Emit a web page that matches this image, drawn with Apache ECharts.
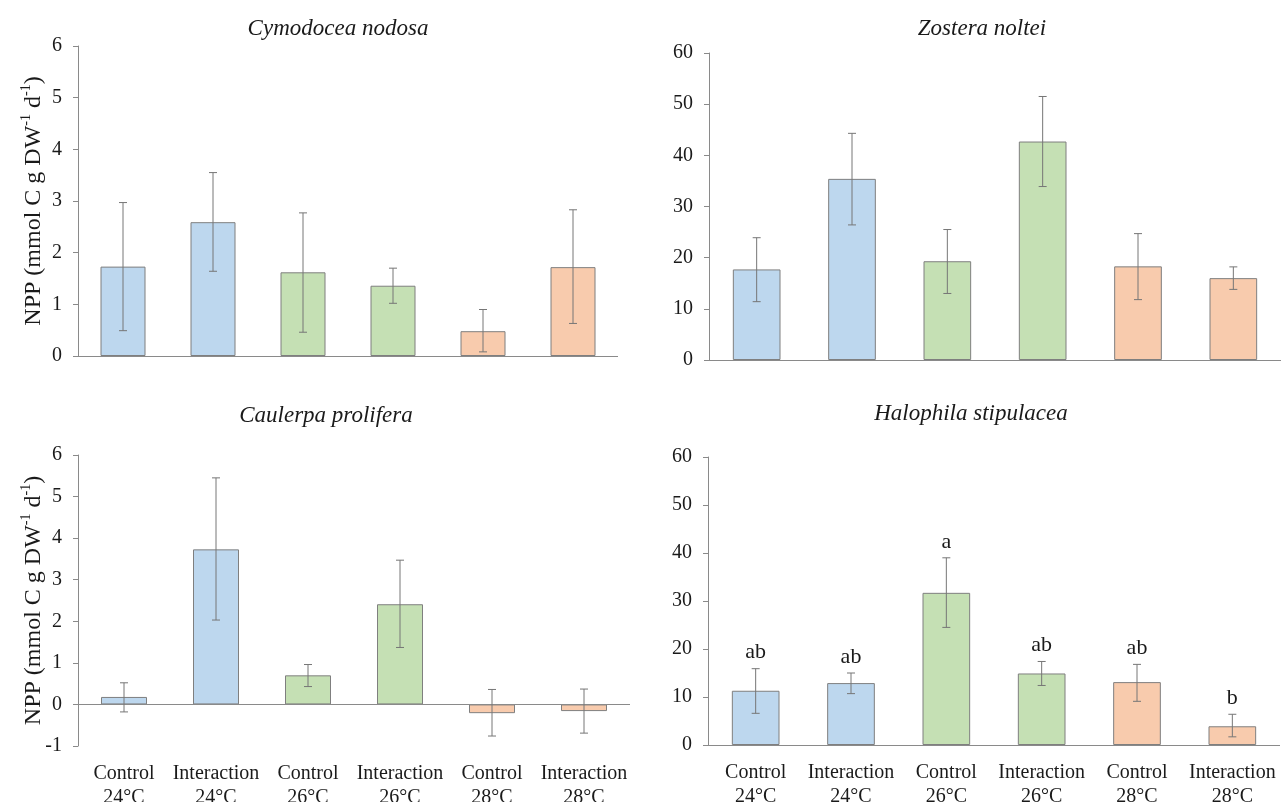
<!DOCTYPE html>
<html>
<head>
<meta charset="utf-8">
<script src="https://cdn.jsdelivr.net/npm/echarts@6/dist/echarts.min.js"></script>
<style>
  html, body { margin: 0; padding: 0; background: #fff; }
  #chart { width: 1282px; height: 802px; }
</style>
</head>
<body>
<div id="chart"></div>
<script>
// Treatment categories (shared by all four panels)
const categories = ['Control\n24°C', 'Interaction\n24°C', 'Control\n26°C', 'Interaction\n26°C', 'Control\n28°C', 'Interaction\n28°C'];

// Cymodocea nodosa: mean NPP and error bar ends
const cymodoceaMean = [1.73, 2.59, 1.62, 1.36, 0.48, 1.72];
const cymodoceaLow  = [0.49, 1.64, 0.46, 1.02, 0.08, 0.63];
const cymodoceaHigh = [2.97, 3.55, 2.77, 1.70, 0.90, 2.83];

// Zostera noltei
const zosteraMean = [17.7, 35.4, 19.3, 42.7, 18.3, 16.0];
const zosteraLow  = [11.4, 26.4, 13.0, 33.9, 11.8, 13.8];
const zosteraHigh = [23.9, 44.3, 25.5, 51.5, 24.7, 18.2];

// Caulerpa prolifera
const caulerpaMean = [0.18, 3.73, 0.70, 2.41, -0.21, -0.16];
const caulerpaLow  = [-0.18, 2.03, 0.43, 1.37, -0.76, -0.69];
const caulerpaHigh = [0.52, 5.45, 0.96, 3.47, 0.36, 0.37];

// Halophila stipulacea
const halophilaMean = [11.3, 12.9, 31.7, 14.9, 13.1, 3.9];
const halophilaLow  = [6.6, 10.7, 24.5, 12.4, 9.1, 1.7];
const halophilaHigh = [15.9, 15.0, 39.0, 17.4, 16.8, 6.4];
const halophilaLetters = ['ab', 'ab', 'a', 'ab', 'ab', 'b'];

// Panel titles and the y axis name
const panelTitles = ['Cymodocea nodosa', 'Zostera noltei', 'Caulerpa prolifera', 'Halophila stipulacea'];
const yNameText = '{n|NPP (mmol C g DW}{s|-1}{n| d}{s|-1}{n|)}';

const SERIF = '"Liberation Serif", "Times New Roman", serif';
const AXIS_GRAY = '#8a8a8a';
const INK = '#1a1a1a';
// fill per temperature group (24, 26, 28 °C)
const groupFill = ['#BDD7EE', '#C5E0B4', '#F8CBAD'];

const panels = [
  { mean: cymodoceaMean, low: cymodoceaLow, high: cymodoceaHigh, min: 0, max: 6, interval: 1,
    grid: { left: 78, top: 46, width: 540, height: 310 }, title: { x: 333, y: 12 }, yName: true, xLabels: false },
  { mean: zosteraMean, low: zosteraLow, high: zosteraHigh, min: 0, max: 60, interval: 10,
    grid: { left: 709, top: 53, width: 572, height: 307 }, title: { x: 977, y: 12 }, yName: false, xLabels: false },
  { mean: caulerpaMean, low: caulerpaLow, high: caulerpaHigh, min: -1, max: 6, interval: 1,
    grid: { left: 78, top: 455, width: 552, height: 291 }, title: { x: 321, y: 399 }, yName: true, xLabels: true },
  { mean: halophilaMean, low: halophilaLow, high: halophilaHigh, letters: halophilaLetters, min: 0, max: 60, interval: 10,
    grid: { left: 708, top: 457, width: 572, height: 288 }, title: { x: 966, y: 397 }, yName: false, xLabels: true }
];

const grids = [], xAxes = [], yAxes = [], series = [], titles = [];

panels.forEach(function (p, i) {
  grids.push(Object.assign({ outerBoundsMode: 'none', containLabel: false }, p.grid));

  titles.push({
    text: panelTitles[i],
    left: p.title.x,
    top: p.title.y,
    textAlign: 'center',
    textStyle: { fontFamily: SERIF, fontStyle: 'italic', fontWeight: 'normal', fontSize: 23, color: INK }
  });

  xAxes.push({
    type: 'category',
    gridIndex: i,
    data: categories,
    position: 'bottom',
    axisLine: { show: false, onZero: false },
    axisTick: { show: false },
    axisLabel: {
      show: p.xLabels,
      interval: 0,
      margin: 16,
      fontFamily: SERIF,
      fontSize: 20,
      lineHeight: 24,
      color: INK
    }
  });

  yAxes.push({
    type: 'value',
    gridIndex: i,
    min: p.min,
    max: p.max,
    interval: p.interval,
    splitLine: { show: false },
    axisLine: { show: true, lineStyle: { color: AXIS_GRAY, width: 1 } },
    axisTick: { show: true, inside: false, length: 5, lineStyle: { color: AXIS_GRAY } },
    axisLabel: { margin: 16, fontFamily: SERIF, fontSize: 20, color: INK },
    name: p.yName ? yNameText : '',
    nameLocation: 'middle',
    nameGap: 32,
    nameMoveOverlap: false,
    nameTextStyle: {
      color: INK,
      rich: {
        n: { fontFamily: SERIF, fontSize: 24, color: INK, lineHeight: 27, verticalAlign: 'bottom' },
        s: { fontFamily: SERIF, fontSize: 14, color: INK, lineHeight: 27, verticalAlign: 'top' }
      }
    }
  });

  // bars, with a zero line drawn across the plot
  series.push({
    type: 'bar',
    xAxisIndex: i,
    yAxisIndex: i,
    data: p.mean,
    barWidth: '50%',
    itemStyle: {
      color: function (params) { return groupFill[Math.floor(params.dataIndex / 2)]; },
      borderColor: '#7f7f7f',
      borderWidth: 1
    },
    markLine: {
      silent: true,
      symbol: 'none',
      label: { show: false },
      lineStyle: { color: AXIS_GRAY, type: 'solid', width: 1 },
      data: [{ yAxis: 0 }]
    },
    z: 2
  });

  // error bars (and significance letters where given)
  const errData = p.mean.map(function (m, k) { return [k, p.low[k], p.high[k]]; });
  const letters = p.letters;
  series.push({
    type: 'custom',
    xAxisIndex: i,
    yAxisIndex: i,
    data: errData,
    encode: { x: 0, y: [1, 2] },
    z: 5,
    silent: true,
    renderItem: function (params, api) {
      const idx = api.value(0);
      const lo = api.coord([idx, api.value(1)]);
      const hi = api.coord([idx, api.value(2)]);
      const half = 4;
      const st = { stroke: '#767676', lineWidth: 1 };
      const children = [
        { type: 'line', shape: { x1: hi[0], y1: hi[1], x2: lo[0], y2: lo[1] }, style: st },
        { type: 'line', shape: { x1: hi[0] - half, y1: hi[1], x2: hi[0] + half, y2: hi[1] }, style: st },
        { type: 'line', shape: { x1: lo[0] - half, y1: lo[1], x2: lo[0] + half, y2: lo[1] }, style: st }
      ];
      if (letters) {
        children.push({
          type: 'text',
          style: {
            text: letters[params.dataIndex],
            x: hi[0],
            y: hi[1] - 5,
            align: 'center',
            verticalAlign: 'bottom',
            fontFamily: SERIF,
            fontSize: 22,
            fill: INK
          }
        });
      }
      return { type: 'group', children: children };
    }
  });
});

const chart = echarts.init(document.getElementById('chart'), null, { renderer: 'canvas' });
chart.setOption({
  animation: false,
  backgroundColor: '#ffffff',
  title: titles,
  grid: grids,
  xAxis: xAxes,
  yAxis: yAxes,
  series: series
});
</script>
</body>
</html>
